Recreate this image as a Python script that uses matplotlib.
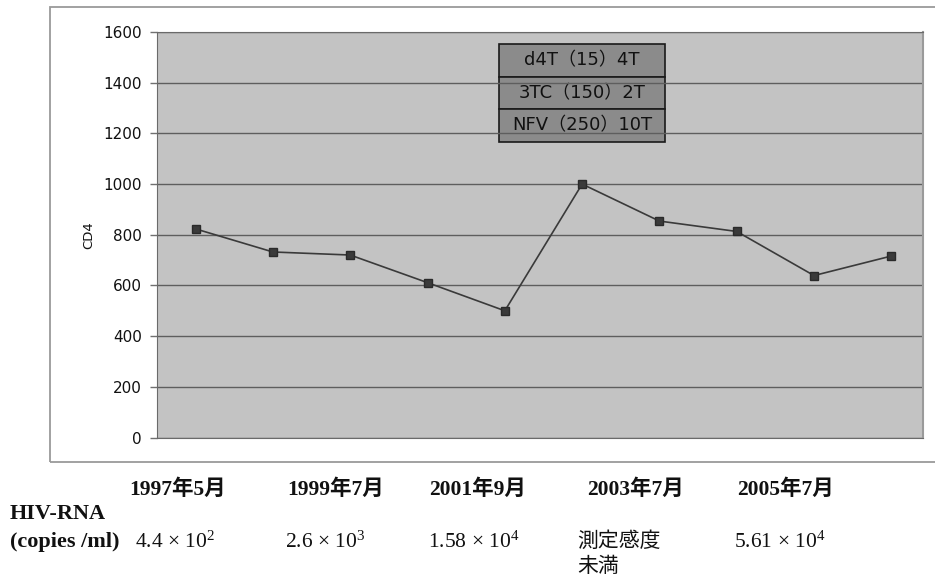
import matplotlib

matplotlib.use("Agg")
import matplotlib.pyplot as plt
from matplotlib.patches import Rectangle

# CD4 counts, one per visit
cd4_values = [823, 732, 720, 611, 500, 1000, 854, 813, 639, 716]
y_ticks = [0, 200, 400, 600, 800, 1000, 1200, 1400, 1600]

# regimen box
regimen_rows = ["d4T（15）4T", "3TC（150）2T", "NFV（250）10T"]

# table below the chart
date_labels = ["1997年5月", "1999年7月", "2001年9月", "2003年7月", "2005年7月"]
hiv_rna_labels = [
    r"4.4 × 10$^{2}$",
    r"2.6 × 10$^{3}$",
    r"1.58 × 10$^{4}$",
    "測定感度\n未満",
    r"5.61 × 10$^{4}$",
]

W, H = 935, 581
plt.rcParams["mathtext.fontset"] = "custom"
plt.rcParams["mathtext.rm"] = "Liberation Serif"
plt.rcParams["mathtext.it"] = "Liberation Serif:italic"
plt.rcParams["mathtext.bf"] = "Liberation Serif:bold"

sans = ["DejaVu Sans", "Noto Sans CJK JP"]
serif = ["Liberation Serif", "Noto Sans CJK JP"]


def fx(px):
    return px / W


def fy(py):
    return 1 - py / H


fig = plt.figure(figsize=(W / 100, H / 100), dpi=100)
fig.patch.set_facecolor("white")

# outer chart frame (runs off the right edge)
fig.patches.append(
    Rectangle((fx(50), fy(462)), 1.0, fy(7) - fy(462), transform=fig.transFigure,
              fill=False, edgecolor="#9a9a9a", linewidth=1.3)
)

ax = fig.add_axes([fx(157), fy(437.5), fx(923) - fx(157), fy(32) - fy(437.5)])
ax.set_facecolor("#c3c3c3")

x = list(range(len(cd4_values)))
ax.plot(x, cd4_values, color="#3a3a3a", linewidth=1.2, marker="s", markersize=5.5,
        markerfacecolor="#3a3a3a", markeredgecolor="#2a2a2a", zorder=3)

ax.set_xlim(-0.5, 9.41)
ax.set_ylim(0, 1600)
ax.set_yticks(y_ticks)
ax.set_yticklabels([str(v) for v in y_ticks], family=sans, fontsize=11, color="#111111")
ax.set_xticks([])
ax.yaxis.grid(True, color="#5e5e5e", linewidth=1.0)
ax.set_axisbelow(True)
ax.tick_params(axis="y", length=5, width=1, color="#707070", pad=6)
for side in ["top", "left", "bottom"]:
    ax.spines[side].set_color("#6a6a6a")
ax.spines["right"].set_color("#9a9a9a")
ax.spines["right"].set_linewidth(1.5)
ax.set_ylabel("CD4", family=sans, fontsize=9.5, labelpad=6, color="#111111")

# regimen box drawn as a table
tbl = ax.table(cellText=[[r] for r in regimen_rows], cellLoc="center",
               cellColours=[["#8b8b8b"]] * len(regimen_rows),
               bbox=[0.4465, 0.7287, 0.2165, 0.2417])
tbl.auto_set_font_size(False)
for cell in tbl.get_celld().values():
    cell.set_edgecolor("#1a1a1a")
    cell.set_linewidth(1.2)
    cell.get_text().set_fontsize(13)
    cell.get_text().set_family(sans)
    cell.get_text().set_color("#111111")

# labels under the chart
date_x = [178, 336, 478, 635, 785]
for dx, lab in zip(date_x, date_labels):
    fig.text(fx(dx), fy(490), lab, ha="center", va="center", family=serif,
             fontsize=15.5, fontweight="bold", color="#111111")

fig.text(fx(10), fy(514), "HIV-RNA", ha="left", va="center", family=serif,
         fontsize=16, fontweight="bold", color="#111111")
fig.text(fx(10), fy(542), "(copies /ml)", ha="left", va="center", family=serif,
         fontsize=16, fontweight="bold", color="#111111")

rna_x = [135, 285, 428, 577, 734]
for rx, lab in zip(rna_x, hiv_rna_labels):
    if "\n" in lab:
        fig.text(fx(rx), fy(530), lab, ha="left", va="top", family=["Noto Sans CJK JP"],
                 fontsize=15, color="#111111", linespacing=1.15)
    else:
        fig.text(fx(rx), fy(542), lab, ha="left", va="center", family=serif,
                 fontsize=15.5, color="#111111")

fig.savefig("out.png", dpi=100)
